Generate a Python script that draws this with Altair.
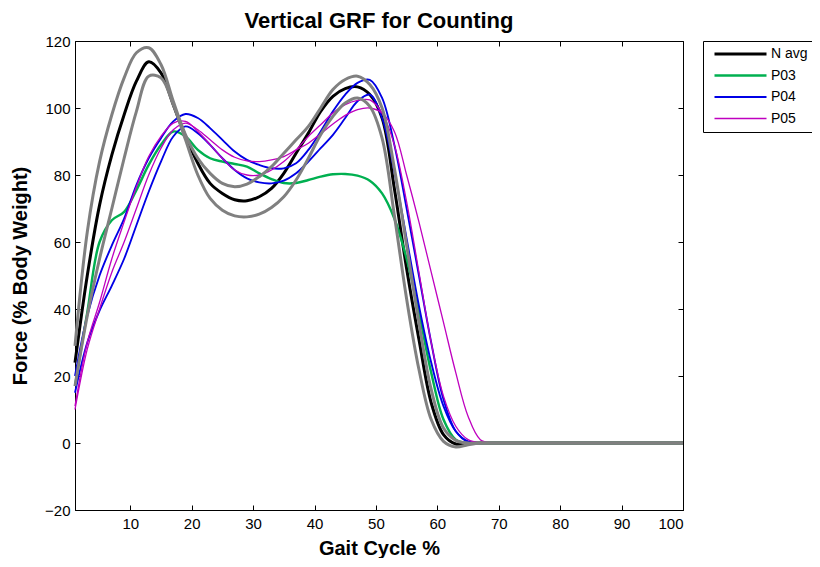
import altair as alt
import pandas as pd

# Gait cycle % sample positions
X = [1, 3, 5, 7, 9, 11, 13, 15, 17, 19, 21, 23, 25, 27, 29, 31, 33, 35, 37,
     39, 41, 43, 45, 47, 49, 51, 53, 55, 57, 59, 61, 63, 65, 67, 69, 71, 100]

N_AVG = [24, 50, 71, 86, 98, 108, 113.8, 110.5, 101, 91.5, 83.5, 77.5, 74.5, 72.6, 72.3, 73.5, 76, 80.5, 86.5,
         92.5, 99, 103.5, 105.8, 106.3, 104, 97, 76, 52, 31, 12, 2.5, -0.3, 0, 0, 0, 0, 0]
SD_UP = [29, 63, 84, 98, 109, 116.5, 118, 113, 102, 92, 85, 80.5, 77.5, 76.5, 77.3, 79.5, 82.5, 86.5, 90.5,
         94.5, 100, 105.5, 108.5, 109.5, 107, 100, 82, 59, 36, 16, 4.5, 0.8, 0, 0, 0, 0, 0]
SD_LO = [17, 38, 55, 70, 85, 99, 109.5, 109, 101, 90.5, 80, 73, 69.5, 67.8, 67.5, 68.3, 70.3, 73.5, 78.5,
         85, 92, 97.5, 101.5, 103, 100.5, 91, 68, 43, 22, 7, 0.5, -1.2, -0.5, 0, 0, 0, 0]
P03 = [17, 39, 60, 66.5, 69, 75.5, 83, 89, 93, 91.5, 87.5, 85, 84, 83.3, 82.5, 80.5, 78.8, 77.6, 77.6,
       78.5, 79.5, 80.2, 80.3, 79.8, 78.3, 74.5, 67, 55, 39, 21, 7, 1, 0, 0, 0, 0, 0]
P04_A = [20, 38, 50, 59, 67, 77, 85, 91, 96, 98.2, 97, 94, 90.5, 87, 84.5, 83, 82, 82, 83.5,
         87.5, 93, 99, 104, 107.5, 108.4, 103, 89, 70, 50, 30, 13, 3.5, 0.3, 0, 0, 0, 0]
P04_B = [15, 30, 39.5, 47, 55, 65, 75, 84, 91.5, 94.5, 92.5, 89, 85, 81.5, 79, 77.8, 77.5, 78.3, 80.5,
         84, 88, 92, 97, 102, 104, 97, 81, 61, 41, 24, 11, 3.5, 0.5, 0, 0, 0, 0]
P05_A = [11, 30, 42, 55, 66, 76.5, 85.5, 91.5, 95.5, 96, 93, 89, 85, 81.5, 80, 80, 81.5, 84, 87.5,
         91.5, 95, 98.5, 101, 102.3, 102.4, 98.5, 89, 72, 51, 30, 14, 5, 1, 0, 0, 0, 0]
P05_B = [10, 28, 40, 51, 60, 70, 80, 88, 93.5, 95.5, 93.5, 90.5, 87.5, 85.3, 84.2, 84, 84.5, 85.5, 87.5,
         89.5, 92.3, 95.2, 97.8, 99.5, 100, 98.5, 93, 80, 66, 51, 36, 21, 8, 1, 0, 0, 0]

SERIES = ["N avg", "P03", "P04", "P05"]
COLORS = ["#000000", "#00B050", "#0000E6", "#BF00BF"]
WIDTHS = [3, 1.3, 1.3, 1.3]
X_TICKS = [10, 20, 30, 40, 50, 60, 70, 80, 90, 100]
Y_TICKS = [-20, 0, 20, 40, 60, 80, 100, 120]

FONT = "Liberation Sans"

col_rows = []
for lid, ser, ys in [("avg", "N avg", N_AVG), ("p03", "P03", P03),
                     ("p04a", "P04", P04_A), ("p04b", "P04", P04_B),
                     ("p05a", "P05", P05_A), ("p05b", "P05", P05_B)]:
    for x, y in zip(X, ys):
        col_rows.append({"x": x, "y": y, "line": lid, "series": ser})
df_col = pd.DataFrame(col_rows)

sd_rows = []
for lid, ys in [("up", SD_UP), ("lo", SD_LO)]:
    for x, y in zip(X, ys):
        sd_rows.append({"x": x, "y": y, "line": lid})
df_sd = pd.DataFrame(sd_rows)

xscale = alt.Scale(domain=[1, 100], nice=False, zero=False)
yscale = alt.Scale(domain=[-20, 120], nice=False, zero=False)

axis_common = dict(grid=False, labelFont=FONT, labelFontSize=15, labelColor="black",
                   tickColor="black", domainColor="black", tickSize=alt.ExprRef(expr="-5"),
                   titleFont=FONT, titleFontSize=20, titleFontWeight="bold", titleColor="black")

legend_common = dict(title=None, orient="none", legendX=628, legendY=0,
                     strokeColor="black", fillColor="white", padding=5, cornerRadius=0,
                     symbolType="stroke", symbolSize=2704, symbolOffset=5, clipHeight=16,
                     rowPadding=5.5, labelOffset=3, labelFont=FONT, labelFontSize=14,
                     labelColor="black")

colored = alt.Chart(df_col).mark_line(interpolate="catmull-rom").encode(
    x=alt.X("x:Q", scale=xscale,
            axis=alt.Axis(values=X_TICKS, title="Gait Cycle %", labelPadding=11,
                          titlePadding=7, **axis_common)),
    y=alt.Y("y:Q", scale=yscale,
            axis=alt.Axis(values=Y_TICKS, title="Force (% Body Weight)", labelPadding=10,
                          titlePadding=14, **axis_common)),
    color=alt.Color("series:N", scale=alt.Scale(domain=SERIES, range=COLORS),
                    legend=alt.Legend(**legend_common)),
    strokeWidth=alt.StrokeWidth("series:N", scale=alt.Scale(domain=SERIES, range=WIDTHS),
                                legend=alt.Legend(**legend_common)),
    detail="line:N",
)

sd = alt.Chart(df_sd).mark_line(interpolate="catmull-rom", color="#808080", strokeWidth=3).encode(
    x=alt.X("x:Q", scale=xscale,
            axis=alt.Axis(orient="top", values=X_TICKS, labels=False, title=None, domain=False,
                          grid=False, tickColor="black", tickSize=alt.ExprRef(expr="-5"))),
    y=alt.Y("y:Q", scale=yscale,
            axis=alt.Axis(orient="right", values=Y_TICKS, labels=False, title=None, domain=False,
                          grid=False, tickColor="black", tickSize=alt.ExprRef(expr="-5"))),
    detail="line:N",
)

chart = alt.layer(colored, sd).resolve_axis(x="independent", y="independent").properties(
    width=608, height=469,
    title=alt.TitleParams("Vertical GRF for Counting", font=FONT, fontSize=22,
                          fontWeight="bold", color="black", offset=1),
    autosize=alt.AutoSizeParams(type="none"),
    padding={"left": 67, "top": 33, "right": 129, "bottom": 48},
).configure_view(stroke="black", strokeWidth=1)

chart.save("out.html", embed_options={"renderer": "svg", "actions": False})
